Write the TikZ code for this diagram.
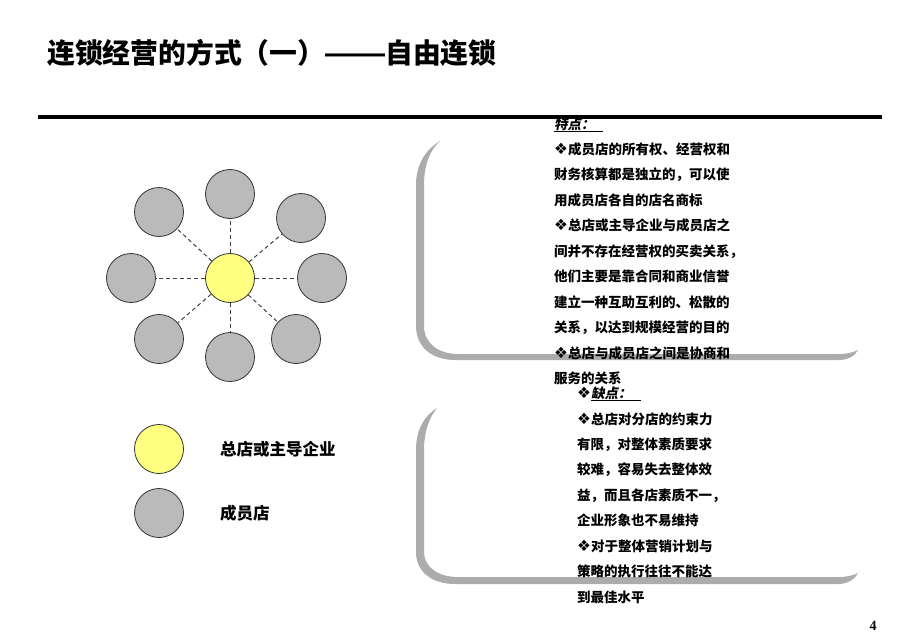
\documentclass[tikz,border=0pt]{standalone}
\usepackage{fontspec}
\setmainfont{Liberation Sans}
\newfontfamily\cjk{Noto Sans CJK SC}
\newfontfamily\cjksl[FakeSlant=0.2]{Noto Sans CJK SC}
\newfontfamily\djv{DejaVu Sans}
\newfontfamily\libsans{Liberation Sans}
\newfontfamily\sernum{Liberation Serif}
\definecolor{memgray}{RGB}{186,186,186}
\definecolor{headyellow}{RGB}{255,255,128}
\definecolor{shadowgray}{RGB}{172,172,172}
\newcommand\mydia{\makebox[14pt][l]{\djv\fontsize{15.5}{15.5}\selectfont ❖}}
\tikzset{
  member/.style={circle, draw=black!80, line width=0.8pt, fill=memgray, minimum size=49pt, inner sep=0pt},
  headnode/.style={circle, draw=black!80, line width=0.8pt, fill=headyellow, minimum size=49pt, inner sep=0pt},
  link/.style={dash pattern=on 4pt off 3pt, draw=black!75, line width=1pt},
  bodytext/.style={anchor=base west, inner sep=0pt, font=\cjk\bfseries\fontsize{13.5}{13.5}\selectfont},
  legendtext/.style={anchor=base west, inner sep=0pt, font=\cjk\bfseries\fontsize{16.5}{16.5}\selectfont},
  panel/.style={fill=shadowgray, draw=none},
  uline/.style={draw=black, line width=0.8pt}
}
\begin{document}
\begin{tikzpicture}[x=1pt,y=-1pt]
\useasboundingbox (0,0) rectangle (920,637);
% title
\node[anchor=base west, inner sep=0pt, font=\cjk\bfseries\fontsize{27.8}{27.8}\selectfont] (title) at (47,63) {连锁经营的方式（一）{\libsans\fontsize{30}{30}\selectfont——}自由连锁};
\draw[line width=4pt] (38,117) -- (882,117);

% star diagram
\node[headnode] (c) at (230,278) {};
\node[member] (o1) at (230,194) {};
\node[member] (o2) at (159,212) {};
\node[member] (o3) at (301,218) {};
\node[member] (o4) at (131,278) {};
\node[member] (o5) at (322,278) {};
\node[member] (o6) at (159,339) {};
\node[member] (o7) at (230,357) {};
\node[member] (o8) at (296,339) {};
\foreach \i in {1,...,8} \draw[link] (c) -- (o\i);

% legend
\node[headnode] (lh) at (159,449) {};
\node[member] (lm) at (159,513) {};
\node[legendtext] (lht) at (220,455) {总店或主导企业};
\node[legendtext] (lmt) at (220,519) {成员店};

% panel shadows
\path[panel] (440,141) .. controls (425,150) and (416,165) .. (416,185) -- (416,326)
  .. controls (416,347) and (432,360) .. (455,360) -- (838,360)
  .. controls (848,360) and (855,356) .. (858,350)
  .. controls (852,353) and (846,354) .. (838,354) -- (458,354)
  .. controls (438,354) and (424,343) .. (424,326) -- (424,185)
  .. controls (424,165) and (430,150) .. (440,141) -- cycle;
\path[panel] (437,408) .. controls (424,416) and (416,430) .. (416,450) -- (416,552)
  .. controls (416,572) and (432,584) .. (455,584) -- (838,584)
  .. controls (848,584) and (855,579) .. (858,573)
  .. controls (852,576) and (846,577) .. (838,577) -- (458,577)
  .. controls (438,577) and (424,567) .. (424,552) -- (424,450)
  .. controls (424,432) and (429,418) .. (437,408) -- cycle;

% panel 1 text
\node[bodytext, font=\cjksl\bfseries\fontsize{13.5}{13.5}\selectfont] (p0) at (554,129) {特点：};
\draw[uline] (554,131) -- (603,131);
\node[bodytext] (p1) at (554,154.5) {\mydia 成员店的所有权、经营权和};
\node[bodytext] (p2) at (554,179.5) {财务核算都是独立的，可以使};
\node[bodytext] (p3) at (554,205) {用成员店各自的店名商标};
\node[bodytext] (p4) at (554,230) {\mydia 总店或主导企业与成员店之};
\node[bodytext] (p5) at (554,256) {间并不存在经营权的买卖关系，};
\node[bodytext] (p6) at (554,281.5) {他们主要是靠合同和商业信誉};
\node[bodytext] (p7) at (554,307) {建立一种互助互利的、松散的};
\node[bodytext] (p8) at (554,332.5) {关系，以达到规模经营的目的};
\node[bodytext] (p9) at (554,358) {\mydia 总店与成员店之间是协商和};
\node[bodytext] (p10) at (554,383) {服务的关系};

% panel 2 text
\node[bodytext] (q0) at (577,398) {\mydia{\cjksl\bfseries 缺点：}};
\draw[uline] (591,400) -- (641,400);
\node[bodytext] (q1) at (577,424) {\mydia 总店对分店的约束力};
\node[bodytext] (q2) at (577,449) {有限，对整体素质要求};
\node[bodytext] (q3) at (577,474.5) {较难，容易失去整体效};
\node[bodytext] (q4) at (577,500) {益，而且各店素质不一，};
\node[bodytext] (q5) at (577,525.5) {企业形象也不易维持};
\node[bodytext] (q6) at (577,551) {\mydia 对于整体营销计划与};
\node[bodytext] (q7) at (577,576.5) {策略的执行往往不能达};
\node[bodytext] (q8) at (577,602) {到最佳水平};

% page number
\node[anchor=base, inner sep=0pt, font=\sernum\bfseries\fontsize{14}{14}\selectfont] (pg) at (873,630) {4};
\end{tikzpicture}
\end{document}
